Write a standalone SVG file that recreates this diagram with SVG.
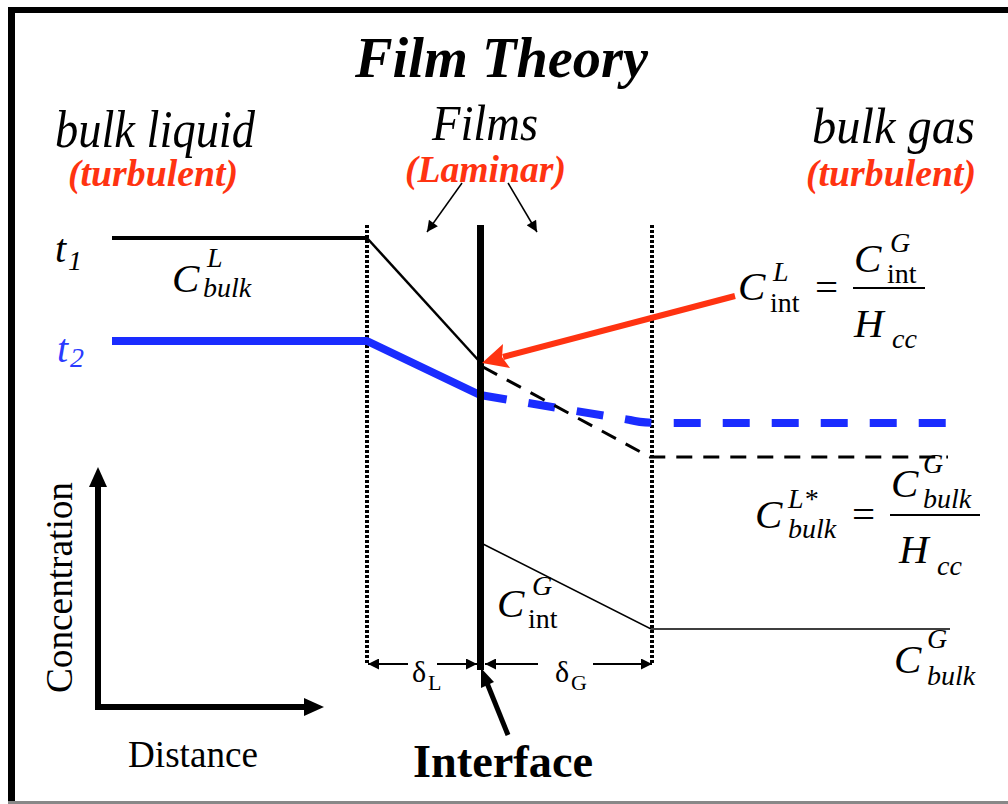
<svg xmlns="http://www.w3.org/2000/svg" width="1008" height="804" viewBox="0 0 1008 804">
<defs>
<style>
.ser{font-family:'Liberation Serif','Times New Roman',serif;fill:#000}
.it{font-style:italic}
.bd{font-weight:bold}
.red{fill:#ff3311}
.blu{fill:#2a3bff}
.big{font-size:41px}
.sm{font-size:28px}
</style>
<marker id="ahThin" viewBox="0 0 10 10" refX="10" refY="5" markerWidth="13" markerHeight="11" markerUnits="userSpaceOnUse" orient="auto"><path d="M0,0 L10,5 L0,10 z" fill="#000"/></marker>
<marker id="ahDim" viewBox="0 0 10 10" refX="10" refY="5" markerWidth="16" markerHeight="11" markerUnits="userSpaceOnUse" orient="auto-start-reverse"><path d="M0,0 L10,5 L0,10 z" fill="#000"/></marker>
</defs>
<rect width="1008" height="804" fill="#fff"/>
<g id="frame">
<rect x="8" y="7" width="1000" height="6" fill="#000"/>
<rect x="8" y="7" width="7" height="797" fill="#000"/>
<rect x="8" y="801" width="1000" height="3" fill="#888"/>
</g>
<g id="titles">
<text class="ser it bd" x="355" y="77" font-size="57" textLength="293" lengthAdjust="spacingAndGlyphs">Film Theory</text>
<text class="ser it" x="55" y="147" font-size="53" textLength="200" lengthAdjust="spacingAndGlyphs">bulk liquid</text>
<text class="ser it bd red" x="68" y="186" font-size="37" textLength="170" lengthAdjust="spacingAndGlyphs">(turbulent)</text>
<text class="ser it" x="432" y="140" font-size="51" textLength="106" lengthAdjust="spacingAndGlyphs">Films</text>
<text class="ser it bd red" x="405" y="182" font-size="37" textLength="161" lengthAdjust="spacingAndGlyphs">(Laminar)</text>
<text class="ser it" x="812" y="143" font-size="51" textLength="163" lengthAdjust="spacingAndGlyphs">bulk gas</text>
<text class="ser it bd red" x="806" y="186" font-size="37" textLength="170" lengthAdjust="spacingAndGlyphs">(turbulent)</text>
</g>
<g id="connectors" fill="none">
<line x1="462" y1="183" x2="427" y2="232" stroke="#000" stroke-width="1.5" marker-end="url(#ahThin)"/>
<line x1="508" y1="183" x2="537" y2="232" stroke="#000" stroke-width="1.5" marker-end="url(#ahThin)"/>
<line x1="367" y1="225" x2="367" y2="664" stroke="#000" stroke-width="4" stroke-dasharray="3,2"/>
<line x1="652" y1="225" x2="652" y2="664" stroke="#000" stroke-width="4" stroke-dasharray="3,2"/>
<path d="M112,238 L367,238" stroke="#000" stroke-width="4"/>
<path d="M367,238 L480,362" stroke="#000" stroke-width="2.5"/>
<path d="M112,341 L367,341 L480,395" stroke="#1a2cff" stroke-width="8" stroke-linejoin="round"/>
<path d="M480,395 L630,420 Q642,423 660,423 L948,423" stroke="#1a2cff" stroke-width="8" stroke-dasharray="27,22"/>
<path d="M483,367 L650,457 L948,457" stroke="#000" stroke-width="3" stroke-dasharray="16,11"/>
<path d="M483,544 L651,629 L950,629" stroke="#000" stroke-width="1.5"/>
<rect x="477" y="225" width="7" height="445" fill="#000"/>
<line x1="735" y1="296" x2="503" y2="357" stroke="#ff3311" stroke-width="6"/>
<path d="M482,363 L510,368 L502,357 L503,344 Z" fill="#ff3311"/>
<line x1="508" y1="735" x2="487" y2="683" stroke="#000" stroke-width="5"/>
<path d="M481,668 L494,682 L481,688 Z" fill="#000"/>
<line x1="368" y1="664" x2="408" y2="664" stroke="#000" stroke-width="2" marker-start="url(#ahDim)"/>
<line x1="437" y1="664" x2="477" y2="664" stroke="#000" stroke-width="2" marker-end="url(#ahDim)"/>
<line x1="485" y1="664" x2="538" y2="664" stroke="#000" stroke-width="2" marker-start="url(#ahDim)"/>
<line x1="593" y1="664" x2="652" y2="664" stroke="#000" stroke-width="2" marker-end="url(#ahDim)"/>
<path d="M98,710 L98,485" stroke="#000" stroke-width="6"/>
<path d="M89,487 L98,467 L107,487 Z" fill="#000"/>
<path d="M95,707 L306,707" stroke="#000" stroke-width="6"/>
<path d="M304,698 L324,707 L304,716 Z" fill="#000"/>
</g>
<g id="labels">
<g id="t1">
<text class="ser it" x="55" y="262" font-size="40">t</text>
<text class="ser it" x="68" y="270" font-size="28">1</text>
</g>
<g id="t2">
<text class="ser it blu" x="57" y="362" font-size="40">t</text>
<text class="ser it blu" x="70" y="367" font-size="28">2</text>
</g>
<g id="c-bulk-L">
<text class="ser it big" x="172" y="292">C</text>
<text class="ser it sm" x="207" y="267">L</text>
<text class="ser it sm" x="203" y="297">bulk</text>
</g>
<g id="c-int-L">
<text class="ser it big" x="738" y="300">C</text>
<text class="ser it sm" x="773" y="281">L</text>
<text class="ser sm" x="770" y="312">int</text>
<text class="ser big" x="815" y="301">=</text>
<text class="ser it big" x="854" y="272">C</text>
<text class="ser it sm" x="890" y="252">G</text>
<text class="ser sm" x="887" y="283">int</text>
<rect x="853" y="287" width="72" height="2" fill="#000"/>
<text class="ser it big" x="854" y="337">H</text>
<text class="ser it sm" x="892" y="348">cc</text>
</g>
<g id="c-bulk-Lstar">
<text class="ser it big" x="755" y="528">C</text>
<text class="ser it sm" x="788" y="508">L*</text>
<text class="ser it sm" x="788" y="538">bulk</text>
<text class="ser big" x="852" y="528">=</text>
<text class="ser it big" x="891" y="497">C</text>
<text class="ser it sm" x="923" y="473">G</text>
<text class="ser it sm" x="923" y="508">bulk</text>
<rect x="890" y="514" width="90" height="2" fill="#000"/>
<text class="ser it big" x="899" y="563">H</text>
<text class="ser it sm" x="937" y="575">cc</text>
</g>
<g id="c-bulk-G">
<text class="ser it big" x="894" y="673">C</text>
<text class="ser it sm" x="927" y="648">G</text>
<text class="ser it sm" x="927" y="685">bulk</text>
</g>
<g id="c-int-G">
<text class="ser it big" x="497" y="617">C</text>
<text class="ser it sm" x="532" y="595">G</text>
<text class="ser sm" x="528" y="628">int</text>
</g>
<g id="delta-L">
<text class="ser" x="412" y="682" font-size="30">δ</text>
<text class="ser" x="428" y="690" font-size="22">L</text>
</g>
<g id="delta-G">
<text class="ser" x="555" y="682" font-size="30">δ</text>
<text class="ser" x="571" y="690" font-size="22">G</text>
</g>
<text id="interface" class="ser bd" x="413" y="777" font-size="46" textLength="180" lengthAdjust="spacingAndGlyphs">Interface</text>
<text id="distance" class="ser" x="128" y="767" font-size="37" textLength="130" lengthAdjust="spacingAndGlyphs">Distance</text>
<text id="concentration" class="ser" transform="translate(72,693) rotate(-90)" font-size="37" textLength="211" lengthAdjust="spacingAndGlyphs">Concentration</text>
</g>
</svg>
